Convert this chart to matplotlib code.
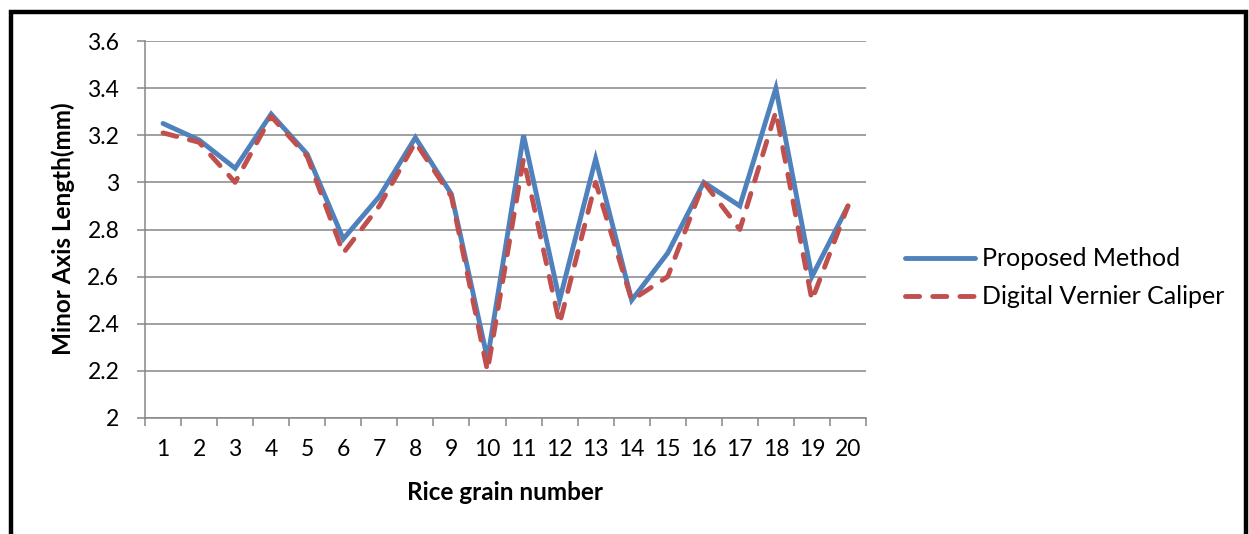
import matplotlib
matplotlib.use("Agg")
import matplotlib.pyplot as plt
from matplotlib.patches import Rectangle
from matplotlib.ticker import FixedLocator, NullFormatter

grains = list(range(1, 21))
proposed = [3.25, 3.18, 3.06, 3.29, 3.12, 2.76, 2.94, 3.19, 2.95, 2.25,
            3.20, 2.50, 3.10, 2.50, 2.70, 3.00, 2.90, 3.40, 2.60, 2.90]
caliper = [3.21, 3.17, 3.00, 3.28, 3.11, 2.70, 2.90, 3.17, 2.94, 2.20,
           3.10, 2.40, 3.00, 2.50, 2.60, 3.00, 2.80, 3.30, 2.50, 2.90]
yticks = [2, 2.2, 2.4, 2.6, 2.8, 3, 3.2, 3.4, 3.6]
ytick_labels = ["2", "2.2", "2.4", "2.6", "2.8", "3", "3.2", "3.4", "3.6"]

plt.rcParams['font.family'] = ['Lato', 'DejaVu Sans']

W, H = 1249, 534
fig = plt.figure(figsize=(W / 100, H / 100), dpi=100)
ax = fig.add_axes([145 / W, 1 - 418 / H, (866 - 145) / W, (418 - 41) / H])

blue = '#4F81BD'
red = '#C0504D'
ax.plot(grains, proposed, color=blue, lw=3.5, solid_joinstyle='miter',
        solid_capstyle='round', label='Proposed Method', zorder=3)
ax.plot(grains, caliper, color=red, lw=3.5, linestyle=(0, (2.9, 2.7)),
        dash_capstyle='round', label='Digital Vernier Caliper', zorder=4)

ax.set_xlim(0.5, 20.5)
ax.set_ylim(2, 3.6)
ax.set_yticks(yticks)
ax.set_yticklabels(ytick_labels)
ax.set_xticks(grains)
ax.set_xticklabels([str(g) for g in grains])
ax.xaxis.set_minor_locator(FixedLocator([i + 0.5 for i in range(0, 21)]))
ax.xaxis.set_minor_formatter(NullFormatter())
ax.tick_params(axis='x', which='major', length=0, pad=15, labelsize=16.5)
ax.tick_params(axis='x', which='minor', length=5.5, width=1.1, color='#868686')
ax.tick_params(axis='y', which='major', length=5.5, width=1.1, color='#868686',
               labelsize=16.5, pad=13)

ax.grid(axis='y', color='#868686', lw=1.1)
ax.set_axisbelow(True)
for s in ['top', 'right']:
    ax.spines[s].set_visible(False)
for s in ['left', 'bottom']:
    ax.spines[s].set_color('#868686')
    ax.spines[s].set_linewidth(1.1)

fig.text(505 / W, 1 - 492 / H, 'Rice grain number', fontsize=17.5,
         fontweight='bold', ha='center', va='center')
fig.text(63 / W, 1 - 229 / H, 'Minor Axis Length(mm)', fontsize=17.5,
         fontweight='bold', ha='center', va='center', rotation=90)

leg = fig.legend(loc='center left', bbox_to_anchor=(905 / W, 1 - 278 / H),
                 frameon=False, fontsize=18, handlelength=2.8,
                 labelspacing=0.6, handletextpad=0.3, borderpad=0,
                 borderaxespad=0)

fig.patches.append(Rectangle((11 / W, -0.05), (1246 - 11) / W, 1.05 - 12 / H,
                             transform=fig.transFigure, fill=False,
                             edgecolor='black', lw=3.2))

fig.savefig('out.png', dpi=100)
